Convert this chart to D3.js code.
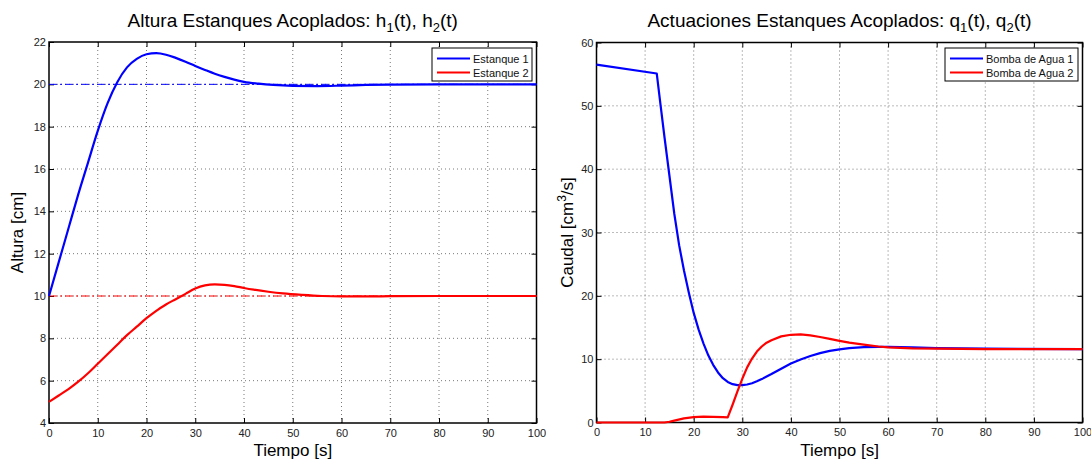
<!DOCTYPE html>
<html>
<head>
<meta charset="utf-8">
<script src="https://cdn.jsdelivr.net/npm/d3@7"></script>
<style>
body { margin: 0; background: #fff; }
text { font-family: "Liberation Sans", Arial, sans-serif; }
</style>
</head>
<body>
<div id="chart"></div>
<script>
// tiempo y alturas
var tH1 = [0, 2, 4, 6, 8, 10, 12, 14, 16, 18, 20, 22, 24, 26, 28, 30, 32, 34, 36, 38, 40, 43, 46, 50, 55, 60, 65, 70, 80, 100];
var h1  = [10, 11.6, 13.2, 14.8, 16.3, 17.8, 19.1, 20.1, 20.8, 21.2, 21.42, 21.47, 21.4, 21.25, 21.07, 20.87, 20.68, 20.5, 20.35, 20.22, 20.12, 20.03, 19.97, 19.93, 19.92, 19.94, 19.97, 19.99, 20.0, 20.0];
var tH2 = [0, 2, 4, 6, 8, 10, 12, 14, 16, 18, 20, 22, 24, 26, 28, 30, 32, 34, 36, 38, 40, 42, 45, 48, 52, 56, 60, 65, 70, 80, 100];
var h2  = [5, 5.3, 5.6, 5.95, 6.35, 6.8, 7.25, 7.7, 8.15, 8.55, 8.95, 9.3, 9.6, 9.85, 10.1, 10.35, 10.5, 10.55, 10.53, 10.47, 10.38, 10.3, 10.2, 10.12, 10.05, 10.0, 9.98, 9.98, 9.99, 10.0, 10.0];
var hRef = [20, 10];

// actuaciones de las bombas
var tQ1 = [0, 12.4, 13.2, 14, 15, 16, 17, 18, 19, 20, 21, 22, 23, 24, 25, 26, 27, 28, 29, 30, 31, 32, 33, 34, 35, 36, 38, 40, 42, 44, 46, 48, 50, 52, 55, 58, 60, 65, 70, 80, 100];
var q1  = [56.5, 55.1, 50, 45, 39, 33, 28, 24, 20.5, 17.3, 14.7, 12.5, 10.6, 9.1, 7.9, 7.0, 6.4, 6.05, 5.9, 5.9, 6.0, 6.2, 6.5, 6.85, 7.25, 7.65, 8.5, 9.3, 9.95, 10.5, 10.95, 11.3, 11.55, 11.75, 11.9, 11.95, 11.95, 11.85, 11.75, 11.65, 11.6];
var tQ2 = [0, 14, 15, 16, 18, 20, 22, 24, 26, 27, 28, 29, 30, 31, 32, 33, 34, 35, 36, 38, 40, 42, 44, 46, 48, 50, 52, 55, 58, 60, 65, 70, 80, 100];
var q2  = [0, 0, 0.12, 0.3, 0.65, 0.85, 0.92, 0.9, 0.85, 0.8, 2.8, 4.9, 6.9, 8.7, 10.1, 11.2, 12.0, 12.6, 13.0, 13.6, 13.85, 13.9, 13.75, 13.5, 13.2, 12.9, 12.6, 12.3, 12.0, 11.85, 11.7, 11.65, 11.6, 11.6];

var xTicks = [0, 10, 20, 30, 40, 50, 60, 70, 80, 90, 100];
var hTicks = [4, 6, 8, 10, 12, 14, 16, 18, 20, 22];
var qTicks = [0, 10, 20, 30, 40, 50, 60];
var hLegend = ['Estanque 1', 'Estanque 2'];
var qLegend = ['Bomba de Agua 1', 'Bomba de Agua 2'];

var col_blue = '#0000ff';
var col_red = '#ff0000';

var svg = d3.select('#chart').append('svg')
    .attr('width', 1091)
    .attr('height', 461);

function drawPanel(p) {
    var x = d3.scaleLinear().domain([0, 100]).range([p.x0, p.x1]);
    var y = d3.scaleLinear().domain(p.yDomain).range([p.y1, p.y0]);
    var g = svg.append('g');

    // rejilla punteada
    g.selectAll('.vgrid').data(xTicks.slice(1, -1)).enter().append('line')
        .attr('x1', function(d) { return x(d); })
        .attr('x2', function(d) { return x(d); })
        .attr('y1', p.y0).attr('y2', p.y1)
        .attr('stroke', '#555').attr('stroke-width', 0.8)
        .attr('stroke-dasharray', '1,3');
    g.selectAll('.hgrid').data(p.yTicks.slice(1, -1)).enter().append('line')
        .attr('y1', function(d) { return y(d); })
        .attr('y2', function(d) { return y(d); })
        .attr('x1', p.x0).attr('x2', p.x1)
        .attr('stroke', '#555').attr('stroke-width', 0.8)
        .attr('stroke-dasharray', '1,3');

    var bottom = g.append('g').attr('transform', 'translate(0,' + p.y1 + ')')
        .call(d3.axisBottom(x).tickValues(xTicks).tickSize(-5).tickSizeOuter(0).tickPadding(6));
    var top = g.append('g').attr('transform', 'translate(0,' + p.y0 + ')')
        .call(d3.axisTop(x).tickValues(xTicks).tickSize(-5).tickSizeOuter(0).tickFormat(''));
    var left = g.append('g').attr('transform', 'translate(' + p.x0 + ',0)')
        .call(d3.axisLeft(y).tickValues(p.yTicks).tickSize(-5).tickSizeOuter(0).tickPadding(3));
    var right = g.append('g').attr('transform', 'translate(' + p.x1 + ',0)')
        .call(d3.axisRight(y).tickValues(p.yTicks).tickSize(-5).tickSizeOuter(0).tickFormat(''));
    [bottom, top, left, right].forEach(function(a) {
        a.select('.domain').remove();
        a.selectAll('.tick line').attr('stroke', '#000').attr('stroke-width', 1);
        a.selectAll('text').style('font-size', '11px').attr('fill', '#222')
            .style('font-family', '"Liberation Sans", Arial, sans-serif');
    });

    g.append('rect')
        .attr('x', p.x0).attr('y', p.y0)
        .attr('width', p.x1 - p.x0).attr('height', p.y1 - p.y0)
        .attr('fill', 'none').attr('stroke', '#000').attr('stroke-width', 1.5);

    if (p.refs) {
        g.selectAll('.ref').data(p.refs).enter().append('line')
            .attr('x1', x(0)).attr('x2', x(100))
            .attr('y1', function(d) { return y(d); })
            .attr('y2', function(d) { return y(d); })
            .attr('stroke', function(d, i) { return i == 0 ? col_blue : col_red; })
            .attr('stroke-width', 1)
            .attr('stroke-dasharray', '8,3,2,3');
    }

    var line = d3.line()
        .x(function(d) { return x(d[0]); })
        .y(function(d) { return y(d[1]); })
        .curve(p.curve);
    p.series.forEach(function(s, i) {
        g.append('path')
            .datum(d3.zip(s[0], s[1]))
            .attr('d', line)
            .attr('fill', 'none')
            .attr('stroke', i == 0 ? col_blue : col_red)
            .attr('stroke-width', 2.2)
            .attr('stroke-linejoin', 'round');
    });

    // leyenda
    var lg = g.append('g');
    lg.append('rect')
        .attr('x', p.legX).attr('y', 48)
        .attr('width', p.legW).attr('height', 33)
        .attr('fill', '#fff').attr('stroke', '#000').attr('stroke-width', 1);
    p.legend.forEach(function(name, i) {
        var ly = 58.5 + i * 14;
        lg.append('line')
            .attr('x1', p.legX + 5).attr('x2', p.legX + 38)
            .attr('y1', ly).attr('y2', ly)
            .attr('stroke', i == 0 ? col_blue : col_red)
            .attr('stroke-width', 2.2);
        lg.append('text')
            .attr('x', p.legX + 41).attr('y', ly + 4)
            .style('font-size', '11px').attr('fill', '#111')
            .text(name);
    });

    // titulo con subindices
    var t = g.append('text')
        .attr('x', (p.x0 + p.x1) / 2).attr('y', 26.5)
        .attr('text-anchor', 'middle')
        .style('font-size', '19px').attr('fill', '#000');
    t.append('tspan').text(p.title + ' ' + p.sym);
    t.append('tspan').attr('dy', 5).style('font-size', '13px').text('1');
    t.append('tspan').attr('dy', -5).text('(t), ' + p.sym);
    t.append('tspan').attr('dy', 5).style('font-size', '13px').text('2');
    t.append('tspan').attr('dy', -5).text('(t)');

    g.append('text')
        .attr('x', (p.x0 + p.x1) / 2).attr('y', 456)
        .attr('text-anchor', 'middle')
        .style('font-size', '17px').attr('fill', '#000')
        .text('Tiempo [s]');

    var yl = g.append('text')
        .attr('transform', 'translate(' + p.yLabX + ',' + ((p.y0 + p.y1) / 2) + ') rotate(-90)')
        .attr('text-anchor', 'middle')
        .style('font-size', '17px').attr('fill', '#000');
    if (p.yLabel2) {
        yl.append('tspan').text(p.yLabel);
        yl.append('tspan').attr('dy', -7).style('font-size', '12px').text('3');
        yl.append('tspan').attr('dy', 7).text(p.yLabel2);
    } else {
        yl.text(p.yLabel);
    }
}

drawPanel({
    x0: 49, x1: 536.5, y0: 42, y1: 423,
    yDomain: [4, 22], yTicks: hTicks,
    series: [[tH1, h1], [tH2, h2]], refs: hRef,
    curve: d3.curveMonotoneX,
    legend: hLegend, legX: 432, legW: 100,
    title: 'Altura Estanques Acoplados:', sym: 'h',
    yLabel: 'Altura [cm]', yLabX: 23
});

drawPanel({
    x0: 596.5, x1: 1082.5, y0: 42.5, y1: 422.5,
    yDomain: [0, 60], yTicks: qTicks,
    series: [[tQ1, q1], [tQ2, q2]],
    curve: d3.curveLinear,
    legend: qLegend, legX: 945, legW: 133,
    title: 'Actuaciones Estanques Acoplados:', sym: 'q',
    yLabel: 'Caudal [cm', yLabel2: '/s]', yLabX: 573
});
</script>
</body>
</html>
